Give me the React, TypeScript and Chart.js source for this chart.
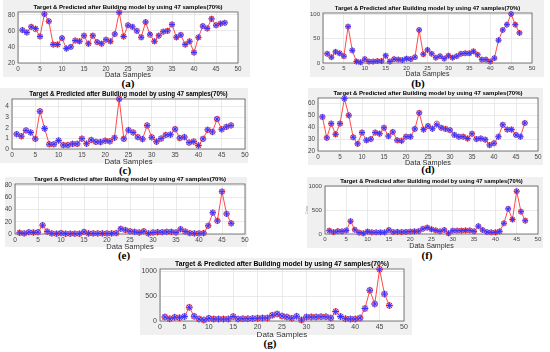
import React, { useEffect, useRef } from "react";
import { Chart, registerables } from "chart.js";
Chart.register(...registerables);

const sampleIndex = [1,2,3,4,5,6,7,8,9,10,11,12,13,14,15,16,17,18,19,20,21,22,23,24,25,26,27,28,29,30,31,32,33,34,35,36,37,38,39,40,41,42,43,44,45,46,47];
const xTickValues = [0,5,10,15,20,25,30,35,40,45,50];
const chartTitle = "Target & Predicted after Building model by using 47 samples(70%)";
const xAxisTitle = "Data Samples";

const targetA = [61,58,65,63,53,81,72,43,43,51,38,40,48,47,54,44,54,46,44,49,47,56,83,53,67,65,60,52,71,56,47,54,59,60,68,52,55,43,47,33,52,66,63,75,67,69,70];
const predictedA = [61,58,65,62,53,81,72,43,43,51,38,40,48,47,54,44,54,46,44,49,47,56,83,53,67,65,60,52,71,55,47,54,59,60,68,52,55,43,47,33,52,66,63,75,67,69,70];
const yTicksA = [20,40,60,80];

const targetB = [19,12,23,20,14,75,26,3,1.5,8,3,3,4,4,15,3,8,7,6,9,8,12,68,18,27,19,11,14,9,15,11,14,19,20,20,24,17,7,7,3,10,47,68,79,101,79,62];
const predictedB = [19,12,23,20,14,75,26,3,1.5,8,3,3,4,4,15,3,8,7,6,9,8,12,68,18,27,19,11,14,9,15,11,14,19,20,20,24,17,7,7,3,10,47,68,79,101,79,62];
const yTicksB = [0,50,100];

const targetC = [1.4,1.2,1.75,1.55,0.95,3.55,1.92,0.45,0.45,0.8,0.37,0.37,0.48,0.48,0.97,0.5,0.85,0.67,0.65,0.78,0.72,1.05,4.7,0.95,1.78,1.55,1.12,0.93,2.22,1.1,0.68,0.98,1.32,1.35,1.87,1.03,1.12,0.6,0.7,0.33,0.95,1.8,1.6,2.82,1.85,2.08,2.22];
const predictedC = [1.4,1.2,1.75,1.55,0.95,3.55,1.92,0.45,0.45,0.8,0.37,0.37,0.48,0.48,0.97,0.5,0.85,0.67,0.65,0.78,0.72,1.05,4.7,0.95,1.78,1.55,1.12,0.93,2.22,1.1,0.68,0.98,1.32,1.35,1.87,1.03,1.12,0.6,0.7,0.33,0.95,1.8,1.6,2.82,1.85,2.08,2.22];
const yTicksC = [0,1,2,3,4];

const targetD = [48.6,31,43,34,43,64,50,31.5,26,35.5,29,30,35.5,34.5,39.5,32.5,36,29,28.3,32,32,38.5,52,38,41,38.7,42,39.5,38.5,37.5,33.5,32,32,30.5,34.5,30,30.5,29.5,25,26.5,32,42,38,38,33.5,32,43.5];
const predictedD = [48.6,31,43,34,43,64,50,31.5,26,35.5,29,30,35.5,34.5,39.5,32.5,36,29,28.8,32,32,38.5,52,38,41,38.7,43,39.5,38.5,37.5,33.5,32,32,30.5,34.5,30,30.5,29.5,25,26.5,32,42,38,38,33.5,32,43.5];
const yTicksD = [20,30,40,50,60];

const targetE = [2,1,3,2.5,3,14.5,4,1,0.5,1.5,0.5,0.5,0.5,0.5,3.5,1,1,1,1,1,1,1.5,8.5,6.5,4.5,3.5,2.5,4.5,1,2.5,3,3,3.5,3.5,2.5,8,4,1.5,1,1,1.5,13.5,35,21.5,69.5,33,17.5];
const predictedE = [2,1,3,2.5,3,14.5,4,1,0.5,1.5,0.5,0.5,0.5,0.5,3.5,1,1,1,1,1,1,1.5,8.5,6.5,4.5,3.5,2.5,4.5,1,2.5,3,3,3.5,3.5,2.5,8,4,1.5,1,1,1.5,13.5,35,21.5,69.5,33,17.5];
const yTicksE = [0,20,40,60,80];

const targetF = [70,40,60,55,75,270,90,30,15,50,35,35,35,35,85,40,45,40,45,50,55,60,110,135,100,75,55,85,15,70,70,70,75,75,55,165,85,40,35,35,55,225,530,305,900,470,280];
const predictedF = [70,40,60,55,75,270,90,30,15,50,35,35,35,35,85,40,45,40,45,50,55,60,110,135,100,75,55,85,15,70,70,70,75,75,55,165,85,40,35,35,55,225,530,305,900,470,280];
const yTicksF = [0,500,1000];

const targetG = [80,45,75,65,90,275,95,40,20,55,40,40,40,40,90,40,45,45,50,55,60,60,115,140,100,80,55,95,20,80,80,80,85,85,60,190,90,45,40,40,60,250,615,340,1035,540,310];
const predictedG = [80,45,75,65,90,275,95,40,20,55,40,40,40,40,90,40,45,45,50,55,60,60,115,140,100,80,55,95,20,80,80,80,85,85,60,190,90,45,40,40,60,250,615,340,1035,540,310];
const yTicksG = [0,500,1000];

const FONT = "'Liberation Sans', Arial, sans-serif";

type Panel = {
  caption: string;
  target: number[];
  predicted: number[];
  yTicks: number[];
  yMin: number;
  yMax: number;
  yTitle?: string;
  gray: [number, number, number, number];
  plot: [number, number, number, number];
  cap: [number, number];
  titleSize: number;
  s: number;
};

const panels: Panel[] = [
  { caption: "(a)", target: targetA, predicted: predictedA, yTicks: yTicksA, yMin: 20, yMax: 83.5, gray: [3, 0, 247, 77], plot: [18, 12, 238, 63], cap: [128, 83], titleSize: 6, s: 1 },
  { caption: "(b)", target: targetB, predicted: predictedB, yTicks: yTicksB, yMin: 0, yMax: 103, gray: [310, 0, 234, 77], plot: [323, 13, 532, 63], cap: [418, 83], titleSize: 5.9, s: 0.96 },
  { caption: "(c)", target: targetC, predicted: predictedC, yTicks: yTicksC, yMin: 0, yMax: 4.7, gray: [0, 88, 248, 75], plot: [12, 99, 245, 149], cap: [125, 170], titleSize: 6.3, s: 1.05 },
  { caption: "(d)", target: targetD, predicted: predictedD, yTicks: yTicksD, yMin: 20, yMax: 64.5, gray: [308, 88, 235, 77], plot: [318, 98, 538, 151], cap: [428, 169], titleSize: 6, s: 1 },
  { caption: "(e)", target: targetE, predicted: predictedE, yTicks: yTicksE, yMin: 0, yMax: 82, gray: [5, 177, 242, 70], plot: [15, 184, 245, 234], cap: [124, 255], titleSize: 6.1, s: 1.04 },
  { caption: "(f)", target: targetF, predicted: predictedF, yTicks: yTicksF, yMin: 0, yMax: 1010, yTitle: "Data", gray: [307, 177, 236, 71], plot: [325, 186, 538, 234], cap: [427, 255], titleSize: 5.8, s: 0.97 },
  { caption: "(g)", target: targetG, predicted: predictedG, yTicks: yTicksG, yMin: 0, yMax: 1040, gray: [140, 258, 272, 77], plot: [160, 269, 404, 321], cap: [270, 343], titleSize: 6.8, s: 1.11 },
];

const boxPlugin = {
  id: "plotbox",
  beforeDraw(chart: any) {
    const { ctx, chartArea } = chart;
    const { left, top, right, bottom } = chartArea;
    ctx.save();
    ctx.fillStyle = "#ffffff";
    ctx.fillRect(left, top, right - left, bottom - top);
    ctx.restore();
  },
  beforeDatasetsDraw(chart: any) {
    const { ctx, chartArea } = chart;
    const { left, top, right, bottom } = chartArea;
    ctx.save();
    ctx.strokeStyle = "#5a5a5a";
    ctx.lineWidth = 0.8;
    ctx.strokeRect(left, top, right - left, bottom - top);
    ctx.restore();
  },
};

function PanelChart({ p }: { p: Panel }) {
  const ref = useRef<HTMLCanvasElement>(null);
  useEffect(() => {
    if (!ref.current) return;
    const [l, t, r, b] = p.plot;
    const yW = Math.min(20, l);
    const xH = Math.round(16 * p.s);
    const titleH = p.titleSize * 1.2 + 1;
    const tickSize = 6.3 * p.s;
    const chart = new Chart(ref.current, {
      type: "line",
      data: {
        datasets: [
          {
            label: "Target",
            data: sampleIndex.map((x, i) => ({ x, y: p.target[i] })),
            showLine: false,
            pointStyle: "star",
            pointRadius: 3 * p.s,
            pointBorderColor: "#3333ff",
            pointBackgroundColor: "#3333ff",
            pointBorderWidth: 1,
            clip: false,
          } as any,
          {
            label: "Predicted",
            data: sampleIndex.map((x, i) => ({ x, y: p.predicted[i] })),
            borderColor: "#ff4a4a",
            borderWidth: 1,
            pointStyle: "circle",
            pointRadius: 2.6 * p.s,
            pointBorderColor: "#ff3b3b",
            pointBackgroundColor: "rgba(255,140,160,0.35)",
            pointBorderWidth: 0.8,
            tension: 0,
            clip: false,
          } as any,
        ],
      },
      options: {
        animation: false,
        responsive: false,
        maintainAspectRatio: false,
        events: [],
        layout: { padding: { left: l - yW, top: t - titleH, right: 550 - r, bottom: 352 - b - xH } },
        plugins: {
          legend: { display: false },
          tooltip: { enabled: false },
          title: {
            display: true,
            text: chartTitle,
            fullSize: false,
            color: "#000",
            font: { family: FONT, weight: "bold", size: p.titleSize, lineHeight: 1.2 },
            padding: { top: 0, bottom: 1 },
          },
        },
        scales: {
          x: {
            type: "linear",
            min: 0,
            max: 50,
            afterBuildTicks: (s: any) => { s.ticks = xTickValues.map((v) => ({ value: v })); },
            afterFit: (s: any) => { s.height = xH; },
            grid: { color: "#e4e4e4", drawTicks: false, lineWidth: 0.8 },
            border: { display: false },
            ticks: { padding: 2, color: "#444", font: { family: FONT, size: tickSize }, maxRotation: 0, autoSkip: false, callback: (v: any) => String(v) },
            title: { display: true, text: xAxisTitle, padding: 0, color: "#333", font: { family: FONT, size: 7.3 * p.s, lineHeight: 1.1 } },
          },
          y: {
            type: "linear",
            min: p.yMin,
            max: p.yMax,
            afterBuildTicks: (s: any) => { s.ticks = p.yTicks.map((v) => ({ value: v })); },
            afterFit: (s: any) => { s.width = yW; },
            grid: { color: "#e4e4e4", drawTicks: false, lineWidth: 0.8 },
            border: { display: false },
            ticks: { padding: 3, color: "#444", font: { family: FONT, size: tickSize }, autoSkip: false, callback: (v: any) => String(v) },
            title: p.yTitle
              ? { display: true, text: p.yTitle, padding: 0, color: "#999", font: { family: FONT, size: 3.5, lineHeight: 1 } }
              : { display: false },
          },
        },
      } as any,
      plugins: [boxPlugin],
    });
    return () => chart.destroy();
  }, [p]);
  return (
    <canvas
      ref={ref}
      width={550}
      height={352}
      style={{ position: "absolute", left: 0, top: 0, width: 550, height: 352 }}
    />
  );
}

export default function App() {
  return (
    <div style={{ position: "absolute", left: 0, top: 0, width: 550, height: 352, background: "#fff", overflow: "hidden" }}>
      {panels.map((p) => (
        <div
          key={"g" + p.caption}
          style={{ position: "absolute", left: p.gray[0], top: p.gray[1], width: p.gray[2], height: p.gray[3], background: "#f0f0f0" }}
        />
      ))}
      {panels.map((p) => (
        <div
          key={"c" + p.caption}
          style={{
            position: "absolute",
            left: p.cap[0],
            top: p.cap[1],
            transform: "translate(-50%, -50%)",
            fontFamily: "'Liberation Serif', 'DejaVu Serif', serif",
            fontWeight: "bold",
            fontSize: 11,
            lineHeight: 1,
            color: "#000",
            whiteSpace: "nowrap",
          }}
        >
          {p.caption}
        </div>
      ))}
      {panels.map((p) => (
        <PanelChart key={"p" + p.caption} p={p} />
      ))}
    </div>
  );
}
